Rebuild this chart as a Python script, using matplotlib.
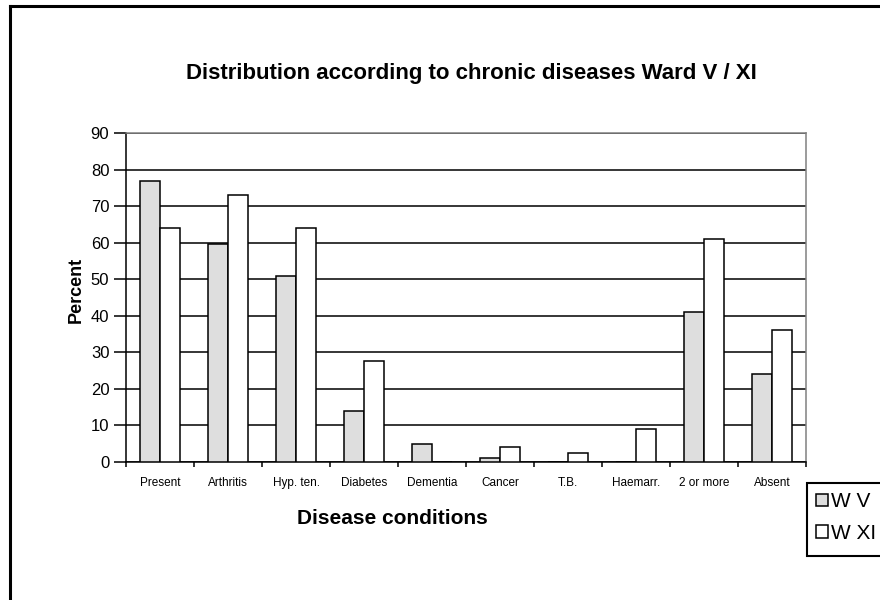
import matplotlib.pyplot as plt
import numpy as np
from matplotlib.lines import Line2D
from matplotlib.patches import Patch, Rectangle

plt.rcParams['font.family'] = ['Liberation Sans', 'DejaVu Sans']

categories = ['Present', 'Arthritis', 'Hyp. ten.', 'Diabetes', 'Dementia',
              'Cancer', 'T.B.', 'Haemarr.', '2 or more', 'Absent']
ward_v = [77, 59.5, 51, 14, 5, 1, 0, 0, 41, 24]
ward_xi = [64, 73, 64, 27.5, 0, 4, 2.5, 9, 61, 36]
series_names = ['W V', 'W XI']

W, H = 880, 600
fig = plt.figure(figsize=(W / 100, H / 100), dpi=100)
ax = fig.add_axes([126 / W, 1 - 462 / H, 680 / W, 329 / H])

x = np.arange(len(categories))
w = 0.29
ax.bar(x - w / 2, ward_v, w, color='#dedede', edgecolor='black', linewidth=1.1, zorder=3)
ax.bar(x + w / 2, ward_xi, w, color='white', edgecolor='black', linewidth=1.1, zorder=3)

ax.set_xlim(-0.5, len(categories) - 0.5)
ax.set_ylim(0, 90)
ax.set_yticks(range(0, 91, 10))
ax.yaxis.grid(True, color='black', linewidth=1.1, zorder=0)
ax.set_axisbelow(True)

# ticks between the groups, labels at group centres
ax.set_xticks(np.arange(-0.5, len(categories), 1.0))
ax.set_xticklabels([])
ax.set_xticks(x, minor=True)
ax.set_xticklabels(categories, minor=True, fontsize=8.5)
ax.tick_params(axis='x', which='minor', length=0, pad=11)
ax.tick_params(axis='x', which='major', length=3.5, width=1.1, direction='out')
ax.tick_params(axis='y', length=9, width=1.1, direction='out', labelsize=12, pad=3)

for side in ['left', 'bottom']:
    ax.spines[side].set_color('black')
    ax.spines[side].set_linewidth(1.1)
for side in ['top', 'right']:
    ax.spines[side].set_color('#808080')
    ax.spines[side].set_linewidth(1.1)

fig.text(471 / W, 1 - 74 / H, 'Distribution according to chronic diseases Ward V / XI',
         ha='center', va='center', fontsize=16, fontweight='bold')
fig.text(76 / W, 1 - 290 / H, 'Percent', rotation=90, ha='center', va='center',
         fontsize=13, fontweight='bold')
fig.text(392 / W, 1 - 518 / H, 'Disease conditions', ha='center', va='center',
         fontsize=15, fontweight='bold')

# legend: box runs off the right edge
fig.add_artist(Rectangle((807 / W, 1 - 556 / H), 100 / W, 73 / H, transform=fig.transFigure,
                         facecolor='white', edgecolor='black', linewidth=1.5, zorder=4))
handles = [Patch(facecolor='#dedede', edgecolor='black', linewidth=1.1),
           Patch(facecolor='white', edgecolor='black', linewidth=1.1)]
leg = fig.legend(handles, series_names, loc='upper left',
                 bbox_to_anchor=(807 / W, 1 - 483 / H), fontsize=15,
                 handlelength=0.55, handleheight=0.55, handletextpad=0.15,
                 borderpad=0.45, labelspacing=0.6, frameon=False,
                 borderaxespad=0)
leg.set_zorder(5)

# outer chart frame
fig.add_artist(Line2D([10 / W, 10 / W], [0, 1 - 6 / H], color='black', linewidth=2.2,
                      transform=fig.transFigure))
fig.add_artist(Line2D([10 / W, 1], [1 - 6 / H, 1 - 6 / H], color='black', linewidth=2.2,
                      transform=fig.transFigure))

fig.savefig('out.png', dpi=100)
